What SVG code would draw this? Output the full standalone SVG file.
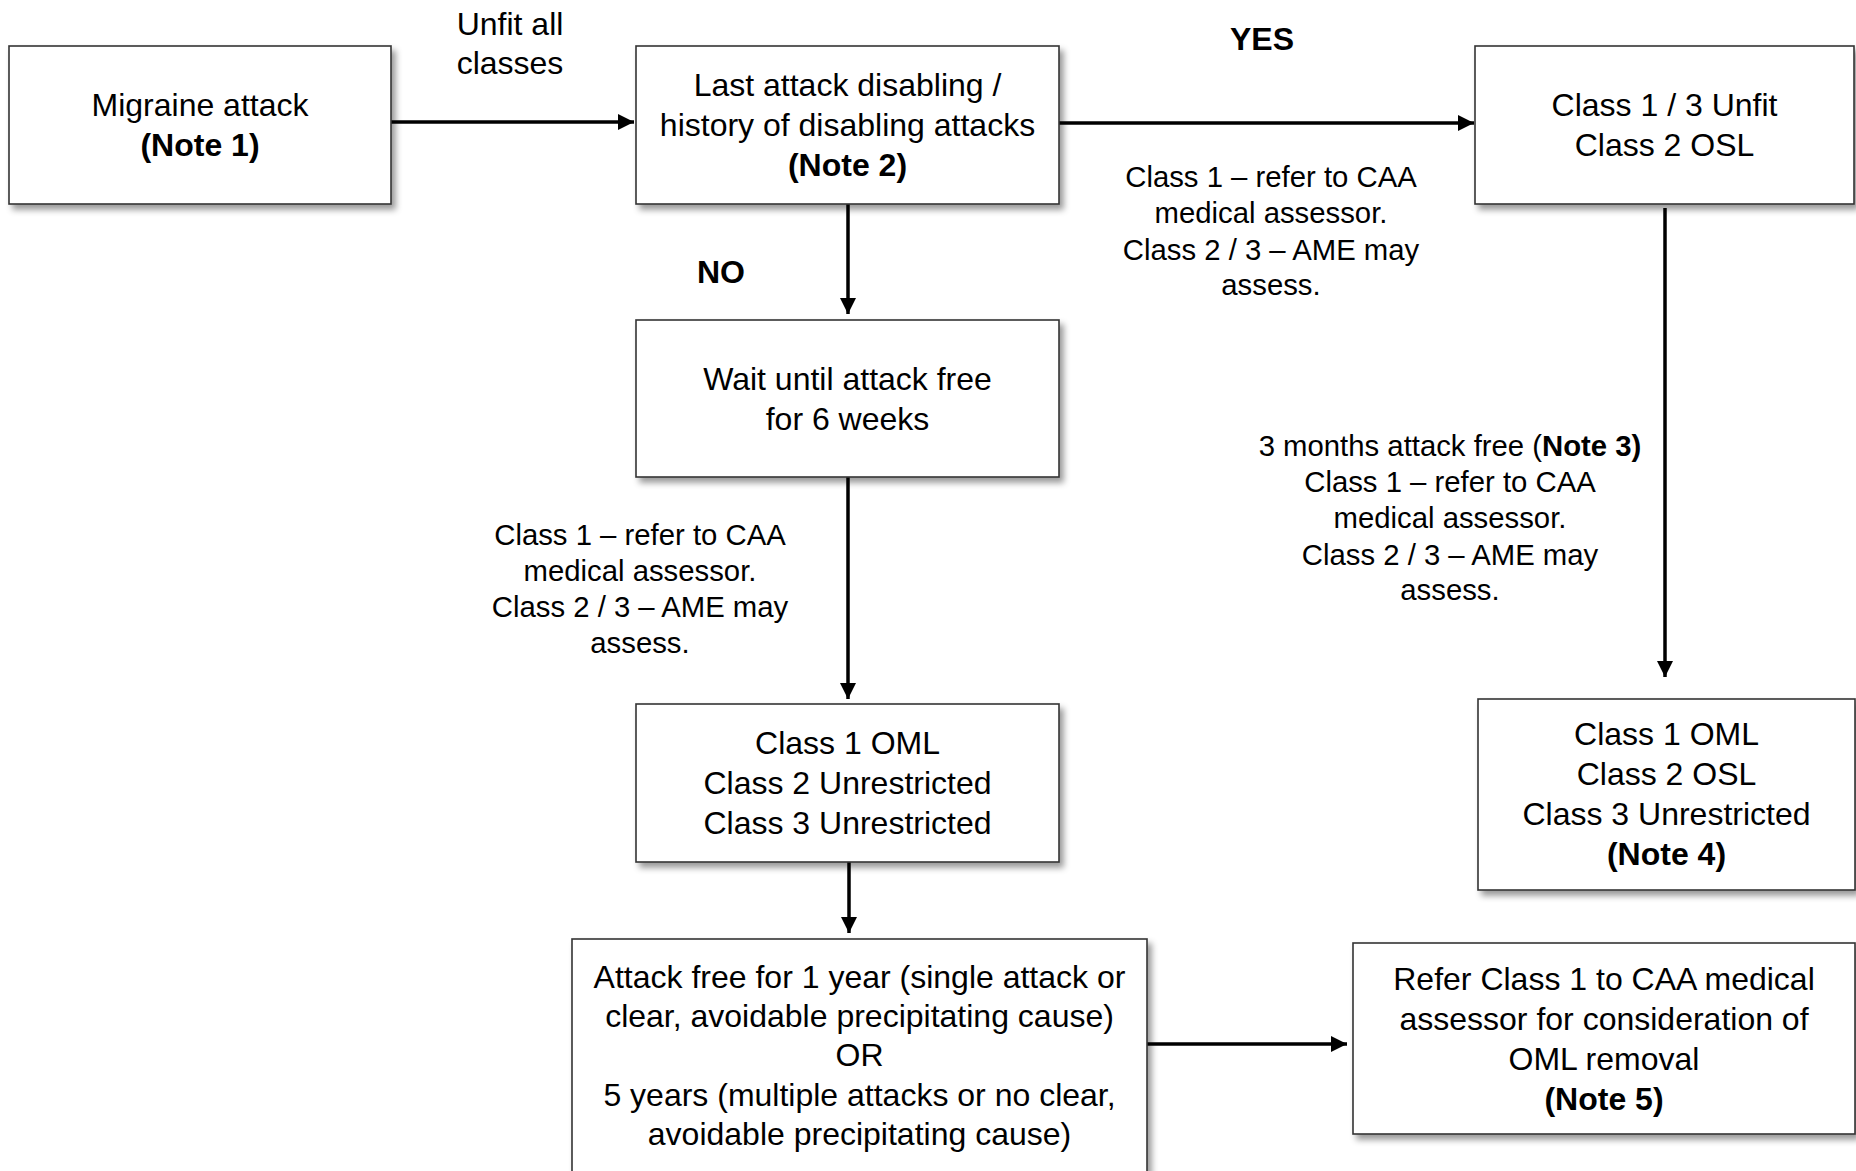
<svg xmlns="http://www.w3.org/2000/svg" width="1856" height="1171" viewBox="0 0 1856 1171">
<defs>
<filter id="sh" x="-10%" y="-10%" width="125%" height="130%">
<feDropShadow dx="4" dy="5" stdDeviation="3" flood-color="#000" flood-opacity="0.4"/>
</filter>
<marker id="ah" markerUnits="userSpaceOnUse" markerWidth="16" markerHeight="16" refX="16" refY="8" orient="auto">
<path d="M0,0 L16,8 L0,16 z" fill="#000"/>
</marker>
<style>
.box{fill:#fff;stroke:#333;stroke-width:1.6;filter:url(#sh)}
.t{font-family:"Liberation Sans",Arial,sans-serif;font-size:32px;fill:#000;text-anchor:middle}
.l{font-family:"Liberation Sans",Arial,sans-serif;font-size:29.3px;fill:#000;text-anchor:middle}
.b{font-weight:bold}
.c{fill:none;stroke:#000;stroke-width:3.5;marker-end:url(#ah)}
</style>
</defs>
<rect width="1856" height="1171" fill="#fff"/>

<g id="connectors">
<path class="c" d="M391,122 H634"/>
<path class="c" d="M1059,123 H1474"/>
<path class="c" d="M848,204 V314"/>
<path class="c" d="M848,477 V699"/>
<path class="c" d="M849,862 V933"/>
<path class="c" d="M1665,208 V677"/>
<path class="c" d="M1147,1044 H1347"/>
</g>

<g id="n-migraine">
<rect class="box" x="9" y="46" width="382" height="158"/>
<text class="t" x="200" y="116">Migraine attack</text>
<text class="t b" x="200" y="156">(Note 1)</text>
</g>

<g id="n-last">
<rect class="box" x="636" y="46" width="423" height="158"/>
<text class="t" x="847.5" y="96">Last attack disabling /</text>
<text class="t" x="847.5" y="136">history of disabling attacks</text>
<text class="t b" x="847.5" y="176">(Note 2)</text>
</g>

<g id="n-unfit">
<rect class="box" x="1475" y="46" width="379" height="158"/>
<text class="t" x="1664.5" y="116">Class 1 / 3 Unfit</text>
<text class="t" x="1664.5" y="156">Class 2 OSL</text>
</g>

<g id="n-wait">
<rect class="box" x="636" y="320" width="423" height="157"/>
<text class="t" x="847.5" y="389.5">Wait until attack free</text>
<text class="t" x="847.5" y="429.5">for 6 weeks</text>
</g>

<g id="n-oml-mid">
<rect class="box" x="636" y="704" width="423" height="158"/>
<text class="t" x="847.5" y="754">Class 1 OML</text>
<text class="t" x="847.5" y="794">Class 2 Unrestricted</text>
<text class="t" x="847.5" y="834">Class 3 Unrestricted</text>
</g>

<g id="n-oml-right">
<rect class="box" x="1478" y="699" width="377" height="191"/>
<text class="t" x="1666.5" y="745">Class 1 OML</text>
<text class="t" x="1666.5" y="785">Class 2 OSL</text>
<text class="t" x="1666.5" y="825">Class 3 Unrestricted</text>
<text class="t b" x="1666.5" y="865">(Note 4)</text>
</g>

<g id="n-attackfree">
<rect class="box" x="572" y="939" width="575" height="245"/>
<text class="t" x="859.5" y="988">Attack free for 1 year (single attack or</text>
<text class="t" x="859.5" y="1027">clear, avoidable precipitating cause)</text>
<text class="t" x="859.5" y="1066">OR</text>
<text class="t" x="859.5" y="1105.5">5 years (multiple attacks or no clear,</text>
<text class="t" x="859.5" y="1145">avoidable precipitating cause)</text>
</g>

<g id="n-refer">
<rect class="box" x="1353" y="943" width="502" height="191"/>
<text class="t" x="1604" y="989.5">Refer Class 1 to CAA medical</text>
<text class="t" x="1604" y="1029.5">assessor for consideration of</text>
<text class="t" x="1604" y="1069.5">OML removal</text>
<text class="t b" x="1604" y="1109.5">(Note 5)</text>
</g>

<g id="labels">
<text class="t" x="510" y="35">Unfit all</text>
<text class="t" x="510" y="74">classes</text>
<text class="t b" x="1262" y="50">YES</text>
<text class="t b" x="721" y="283">NO</text>
<text class="l" x="1271" y="187">Class 1 – refer to CAA</text>
<text class="l" x="1271" y="223">medical assessor.</text>
<text class="l" x="1271" y="259.5">Class 2 / 3 – AME may</text>
<text class="l" x="1271" y="295">assess.</text>
<text class="l" x="640" y="544.5">Class 1 – refer to CAA</text>
<text class="l" x="640" y="580.5">medical assessor.</text>
<text class="l" x="640" y="617">Class 2 / 3 – AME may</text>
<text class="l" x="640" y="653">assess.</text>
<text class="l" x="1450" y="455.5">3 months attack free (<tspan class="b">Note 3)</tspan></text>
<text class="l" x="1450" y="492">Class 1 – refer to CAA</text>
<text class="l" x="1450" y="528">medical assessor.</text>
<text class="l" x="1450" y="564.5">Class 2 / 3 – AME may</text>
<text class="l" x="1450" y="600">assess.</text>
</g>
</svg>
